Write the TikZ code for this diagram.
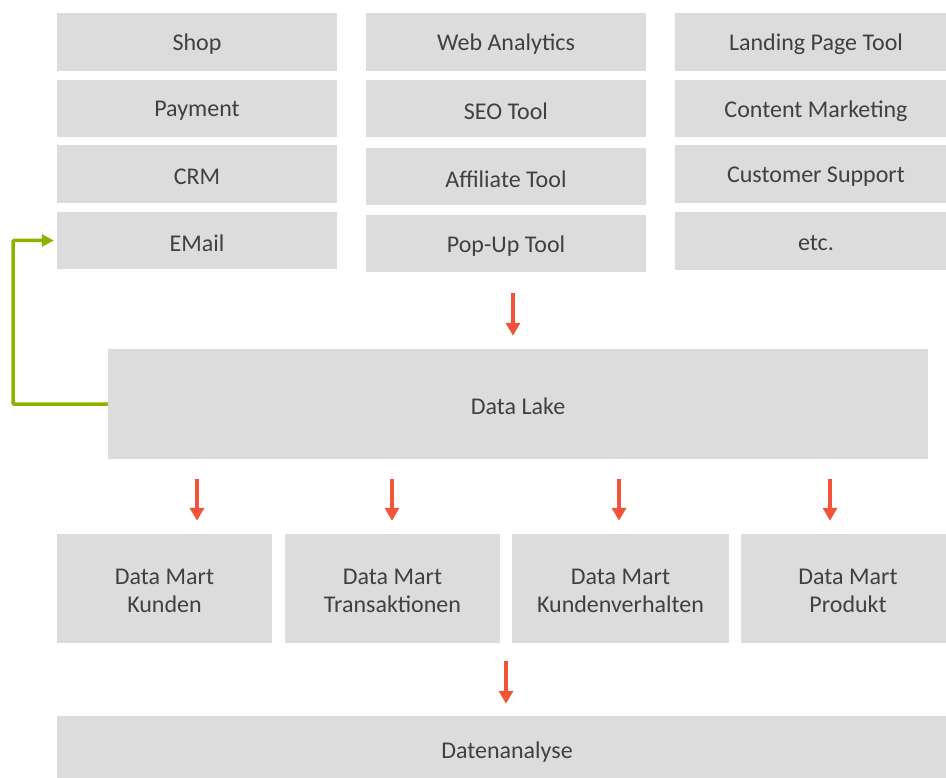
\documentclass[tikz,border=0pt]{standalone}
\usepackage{fontspec}
\setmainfont{Carlito}
\usetikzlibrary{arrows.meta}
\definecolor{boxgray}{RGB}{220,220,220}
\definecolor{txtgray}{RGB}{64,64,64}
\definecolor{flowred}{RGB}{240,85,58}
\definecolor{loopgreen}{RGB}{140,178,0}
\tikzset{
  box/.style={fill=boxgray, draw=none, inner sep=0pt},
  boxtext/.style={inner sep=0pt, align=center, text=txtgray,
    font=\fontsize{24}{28}\selectfont},
  flow/.style={draw=flowred, line width=3.5pt,
    -{Triangle[length=13pt,width=14pt]}},
  loop/.style={draw=loopgreen, line width=3.5pt, rounded corners=1pt,
    -{Triangle[length=12pt,width=12pt]}}
}
% a box given by its left/top/right/bottom edges (y grows downward),
% with its caption set slightly below the centre
\newcommand{\boxat}[6]{%
  \node[box, minimum width={(#4-#2)*1pt}, minimum height={(#5-#3)*1pt}]
    (#1) at ({(#2+#4)/2}, {(#3+#5)/2}) {};
  \node[boxtext] (#1-text) at ([yshift=-2.5pt]#1.center) {#6};}
\begin{document}
\begin{tikzpicture}[x=1pt, y=-1pt]
\useasboundingbox (0,0) rectangle (946,778);

% source systems, column 1
\boxat{shop}{57}{13}{337}{71}{Shop}
\boxat{payment}{57}{80}{337}{137}{Payment}
\boxat{crm}{57}{145}{337}{203}{CRM}
\boxat{email}{57}{212}{337}{269}{EMail}
% source systems, column 2
\boxat{web}{366}{13}{646}{71}{Web Analytics}
\boxat{seo}{366}{80}{646}{137}{SEO Tool}
\boxat{affiliate}{366}{148}{646}{205}{Affiliate Tool}
\boxat{popup}{366}{215}{646}{272}{Pop-Up Tool}
% source systems, column 3 (runs past the right edge)
\boxat{landing}{675}{13}{957}{71}{Landing Page Tool}
\boxat{content}{675}{80}{957}{137}{Content Marketing}
\boxat{support}{675}{145}{957}{203}{Customer Support}
\boxat{etc}{675}{212}{957}{270}{etc.}

% central storage
\boxat{lake}{108}{349}{928}{459}{Data Lake}

% data marts
\boxat{dm1}{57}{534}{272}{643}{Data Mart\\Kunden}
\boxat{dm2}{285}{534}{500}{643}{Data Mart\\Transaktionen}
\boxat{dm3}{512}{534}{729}{643}{Data Mart\\Kundenverhalten}
\boxat{dm4}{741}{534}{955}{643}{Data Mart\\Produkt}

% analysis layer
\boxat{analysis}{57}{716}{957}{784}{Datenanalyse}

% arrow columns
\coordinate (c0) at (513,0);
\coordinate (c1) at (197,0);
\coordinate (c2) at (392,0);
\coordinate (c3) at (619,0);
\coordinate (c4) at (830,0);
\coordinate (c5) at (506,0);

% sources -> lake
\draw[flow, shorten <=21pt, shorten >=13pt] (popup.south -| c0) -- (lake.north -| c0);
% lake -> data marts
\draw[flow, shorten <=20pt, shorten >=13pt] (lake.south -| c1) -- (dm1.north -| c1);
\draw[flow, shorten <=20pt, shorten >=13pt] (lake.south -| c2) -- (dm2.north -| c2);
\draw[flow, shorten <=20pt, shorten >=13pt] (lake.south -| c3) -- (dm3.north -| c3);
\draw[flow, shorten <=20pt, shorten >=13pt] (lake.south -| c4) -- (dm4.north -| c4);
% data marts -> analysis
\draw[flow, shorten <=18pt, shorten >=12pt] (dm3.south -| c5) -- (analysis.north -| c5);

% feedback from the lake back into e-mail
\coordinate (turn) at (13,404);
\draw[loop, shorten >=3pt] (lake.west) -- (turn) |- (email.west);
\end{tikzpicture}
\end{document}
